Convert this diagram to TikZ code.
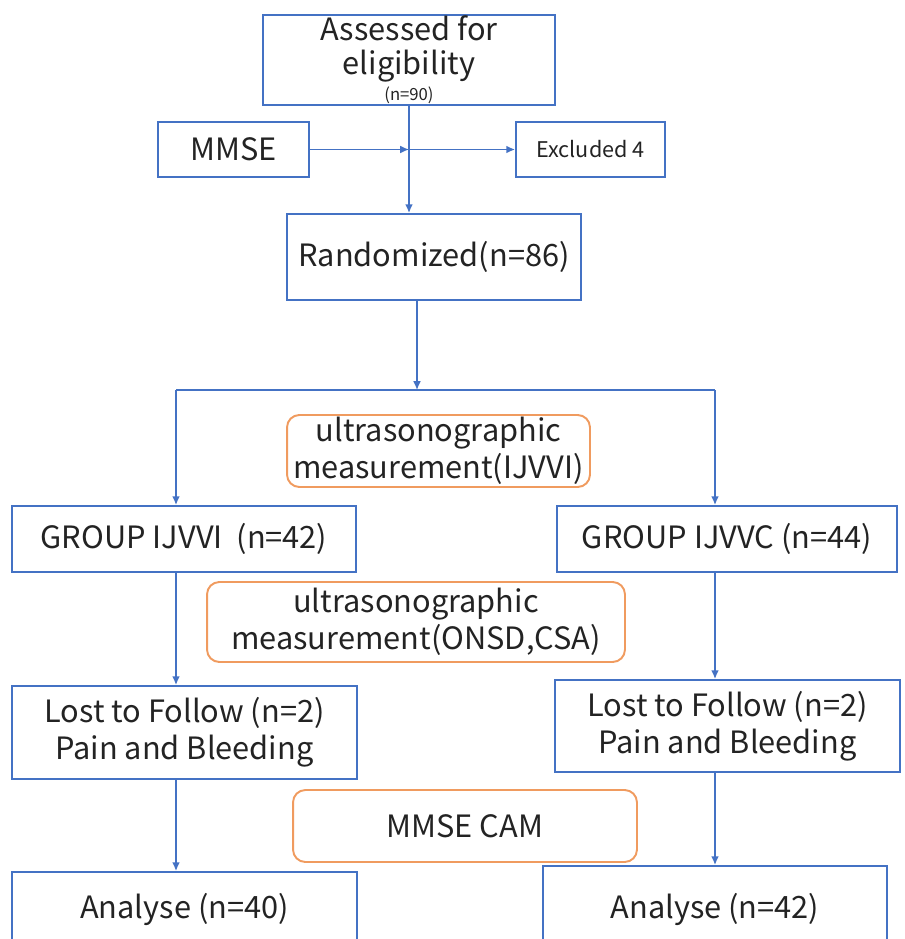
\documentclass[tikz,border=0pt]{standalone}
\usepackage{fontspec}
\setmainfont{Noto Sans CJK SC}
\usetikzlibrary{arrows.meta}
\definecolor{boxblue}{RGB}{68,114,196}
\definecolor{boxorange}{RGB}{240,155,95}
\definecolor{txtgray}{RGB}{35,35,35}
\begin{document}
\begin{tikzpicture}[x=0.02cm,y=-0.02cm,
  bluebox/.style={draw=boxblue,line width=1.1pt,inner sep=0pt,align=center,text=txtgray},
  orangebox/.style={draw=boxorange,line width=1.1pt,rounded corners=7pt,inner sep=0pt,align=center,text=txtgray},
  arr/.style={draw=boxblue,line width=0.9pt,-{Latex[length=5pt,width=4.5pt]}},
  big/.style={font=\fontsize{17.5}{23}\selectfont}]
\useasboundingbox (0,0) rectangle (905,939);
\clip (0,0) rectangle (905,939);

\node[bluebox,big,minimum width=5.84cm,minimum height=1.8cm] (assess) at (409,60)
  {Assessed for\\[-4pt]eligibility\\[-8pt]{\fontsize{9.5}{10}\selectfont (n=90)}};
\node[bluebox,big,minimum width=3.02cm,minimum height=1.1cm] (mmse) at (233.5,149.5) {MMSE};
\node[bluebox,font=\fontsize{12.3}{15}\selectfont,minimum width=2.98cm,minimum height=1.1cm] (excl) at (590.5,149.5) {Excluded 4};
\node[bluebox,big,minimum width=5.88cm,minimum height=1.72cm] (rand) at (434,257) {Randomized(n=86)};

\node[orangebox,big,minimum width=6.06cm,minimum height=1.44cm] (usa) at (438.5,451)
  {ultrasonographic\\[-2pt]measurement(IJVVI)};
\node[bluebox,big,minimum width=6.88cm,minimum height=1.32cm] (grpi) at (184,539) {GROUP IJVVI\ \ (n=42)};
\node[bluebox,big,minimum width=6.8cm,minimum height=1.32cm] (grpc) at (727,539) {GROUP IJVVC (n=44)};

\node[orangebox,big,minimum width=8.36cm,minimum height=1.6cm] (usb) at (416,622)
  {ultrasonographic\\[-2pt]measurement(ONSD,CSA)};
\node[bluebox,big,minimum width=6.9cm,minimum height=1.86cm] (lossi) at (184.5,732.5)
  {Lost to Follow (n=2)\\[-2pt]Pain and Bleeding};
\node[bluebox,big,minimum width=6.9cm,minimum height=1.84cm] (lossc) at (727.5,726)
  {Lost to Follow (n=2)\\[-2pt]Pain and Bleeding};

\node[orangebox,big,minimum width=6.88cm,minimum height=1.44cm] (cam) at (465,826) {MMSE CAM};
\node[bluebox,big,minimum width=6.9cm,minimum height=1.52cm] (anai) at (184.5,910) {Analyse (n=40)};
\node[bluebox,big,minimum width=6.88cm,minimum height=1.76cm] (anac) at (715,910) {Analyse (n=42)};

% connectors
\coordinate (cross) at (assess.south |- mmse.east);
\coordinate (split) at (417,390);
\coordinate (lcol) at (176,390);
\coordinate (rcol) at (715,390);
\draw[arr] (assess.south) -- (assess.south |- rand.north);
\draw[arr] (mmse.east) -- (cross);
\draw[arr] (cross) -- (excl.west);
\draw[arr] (rand.south -| split) -- (split);
\draw[boxblue,line width=0.9pt] (lcol) -- (rcol);
\draw[arr] (lcol) -- (grpi.north -| lcol);
\draw[arr] (rcol) -- (grpc.north -| rcol);
\draw[arr] (grpi.south -| lcol) -- (lossi.north -| lcol);
\draw[arr] (grpc.south -| rcol) -- (lossc.north -| rcol);
\draw[arr] (lossi.south -| lcol) -- (anai.north -| lcol);
\draw[arr] (lossc.south -| rcol) -- (anac.north -| rcol);
\end{tikzpicture}
\end{document}
